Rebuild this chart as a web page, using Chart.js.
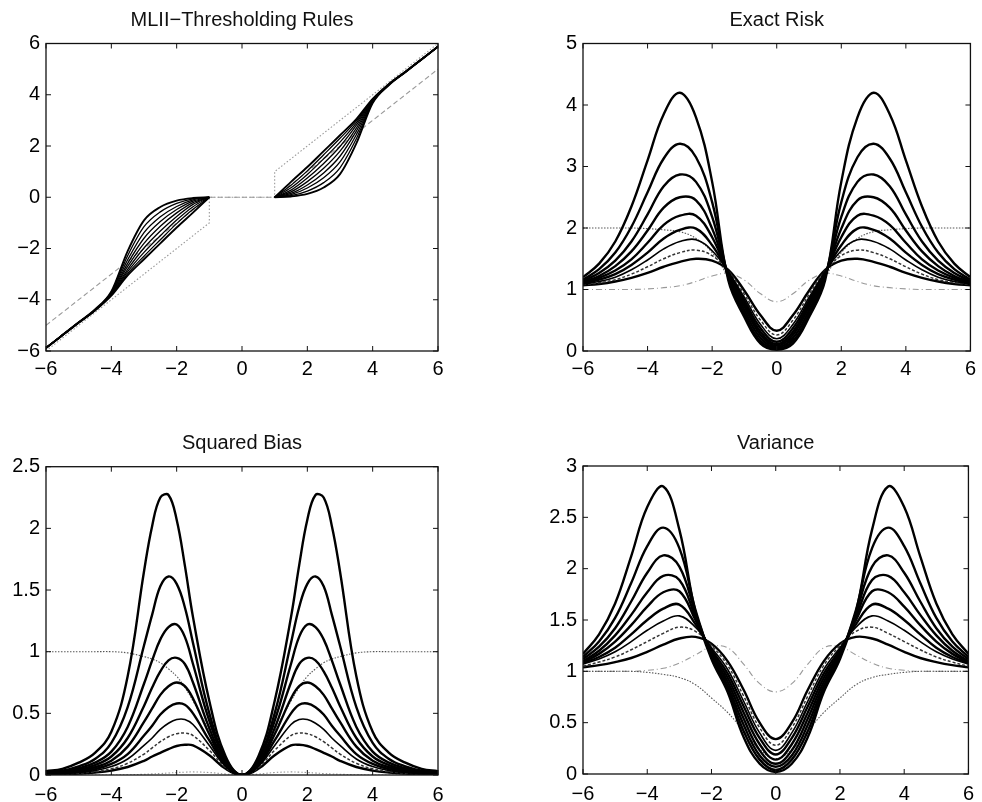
<!DOCTYPE html>
<html>
<head>
<meta charset="utf-8">
<script src="https://cdn.jsdelivr.net/npm/chart.js@4.4.1/dist/chart.umd.min.js"></script>
<style>
  body { margin: 0; background: #fff; }
  #wrap { position: relative; width: 982px; height: 802px; overflow: hidden; }
  canvas { position: absolute; }
</style>
</head>
<body>
<div id="wrap">
  <canvas id="c1" width="491" height="401" style="left:0;top:0"></canvas>
  <canvas id="c2" width="491" height="401" style="left:491px;top:0"></canvas>
  <canvas id="c3" width="491" height="401" style="left:0;top:401px"></canvas>
  <canvas id="c4" width="491" height="401" style="left:491px;top:401px"></canvas>
</div>
<script>
// grille commune des abscisses (pas de 0.5)
const xs = [-6,-5.5,-5,-4.5,-4,-3.5,-3,-2.5,-2,-1.5,-1,-0.5,0,0.5,1,1.5,2,2.5,3,3.5,4,4.5,5,5.5,6];
// grille plus fine autour des pics pour le biais
const xsBias = [-6,-5.5,-5,-4.5,-4,-3.5,-3,-2.75,-2.5,-2.25,-2,-1.75,-1.5,-1,-0.5,0,0.5,1,1.5,1.75,2,2.25,2.5,2.75,3,3.5,4,4.5,5,5.5,6];

// --- MLII-Thresholding Rules (9 regles, de la plus forte a la plus faible contraction)
const rule1 = [-5.88,-5.38,-4.88,-4.38,-3.68,-2.1,-0.9,-0.38,-0.13,-0.03,0,null,null,null,0,0.03,0.13,0.38,0.9,2.1,3.68,4.38,4.88,5.38,5.88];
const rule2 = [-5.88,-5.38,-4.88,-4.39,-3.7,-2.28,-1.15,-0.57,-0.24,-0.06,0,null,null,null,0,0.06,0.24,0.57,1.15,2.28,3.7,4.39,4.88,5.38,5.88];
const rule3 = [-5.88,-5.38,-4.88,-4.4,-3.72,-2.44,-1.38,-0.76,-0.36,-0.1,0,null,null,null,0,0.1,0.36,0.76,1.38,2.44,3.72,4.4,4.88,5.38,5.88];
const rule4 = [-5.88,-5.38,-4.89,-4.4,-3.74,-2.58,-1.6,-0.95,-0.48,-0.15,0,null,null,null,0,0.15,0.48,0.95,1.6,2.58,3.74,4.4,4.89,5.38,5.88];
const rule5 = [-5.88,-5.39,-4.89,-4.41,-3.76,-2.7,-1.8,-1.13,-0.61,-0.21,0,null,null,null,0,0.21,0.61,1.13,1.8,2.7,3.76,4.41,4.89,5.39,5.88];
const rule6 = [-5.88,-5.39,-4.89,-4.41,-3.78,-2.81,-1.98,-1.32,-0.75,-0.28,0,null,null,null,0,0.28,0.75,1.32,1.98,2.81,3.78,4.41,4.89,5.39,5.88];
const rule7 = [-5.88,-5.39,-4.9,-4.42,-3.8,-2.9,-2.15,-1.5,-0.89,-0.37,0,null,null,null,0,0.37,0.89,1.5,2.15,2.9,3.8,4.42,4.9,5.39,5.88];
const rule8 = [-5.88,-5.39,-4.9,-4.42,-3.82,-2.98,-2.3,-1.66,-1.03,-0.47,0,null,null,null,0,0.47,1.03,1.66,2.3,2.98,3.82,4.42,4.9,5.39,5.88];
const rule9 = [-5.88,-5.39,-4.9,-4.42,-3.84,-3.05,-2.42,-1.8,-1.18,-0.6,0,null,null,null,0,0.6,1.18,1.8,2.42,3.05,3.84,4.42,4.9,5.39,5.88];
// seuillage dur / doux (lambda = 1)
const hardX = [-6,-1,-1,1,1,6];
const hardY = [-6,-1,0,0,1,6];
const softX = [-6,-1,1,6];
const softY = [-5,0,0,5];

// --- Exact Risk
const risk1 = [1.2,1.42,1.78,2.35,3.1,3.85,4.2,3.8,2.75,1.15,0.55,0.12,0.02,0.12,0.55,1.15,2.75,3.8,4.2,3.85,3.1,2.35,1.78,1.42,1.2];
const risk2 = [1.16,1.33,1.6,2.02,2.58,3.13,3.37,3.15,2.42,1.2,0.6,0.16,0.04,0.16,0.6,1.2,2.42,3.15,3.37,3.13,2.58,2.02,1.6,1.33,1.16];
const risk3 = [1.14,1.27,1.47,1.78,2.22,2.68,2.87,2.75,2.18,1.22,0.66,0.21,0.06,0.21,0.66,1.22,2.18,2.75,2.87,2.68,2.22,1.78,1.47,1.27,1.14];
const risk4 = [1.12,1.22,1.38,1.62,1.96,2.33,2.5,2.45,1.99,1.24,0.72,0.26,0.08,0.26,0.72,1.24,1.99,2.45,2.5,2.33,1.96,1.62,1.38,1.22,1.12];
const risk5 = [1.11,1.19,1.31,1.49,1.76,2.05,2.2,2.2,1.85,1.26,0.77,0.31,0.11,0.31,0.77,1.26,1.85,2.2,2.2,2.05,1.76,1.49,1.31,1.19,1.11];
const risk6 = [1.1,1.16,1.25,1.4,1.6,1.83,1.97,1.99,1.72,1.28,0.82,0.37,0.15,0.37,0.82,1.28,1.72,1.99,1.97,1.83,1.6,1.4,1.25,1.16,1.1];
const risk7 = [1.09,1.13,1.2,1.32,1.48,1.66,1.78,1.81,1.63,1.29,0.87,0.43,0.2,0.43,0.87,1.29,1.63,1.81,1.78,1.66,1.48,1.32,1.2,1.13,1.09];
const risk8 = [1.08,1.11,1.16,1.25,1.37,1.5,1.6,1.64,1.55,1.3,0.92,0.5,0.26,0.5,0.92,1.3,1.55,1.64,1.6,1.5,1.37,1.25,1.16,1.11,1.08];
const risk9 = [1.07,1.09,1.13,1.19,1.27,1.37,1.45,1.5,1.47,1.32,0.98,0.58,0.33,0.58,0.98,1.32,1.47,1.5,1.45,1.37,1.27,1.19,1.13,1.09,1.07];
const riskSoft = [2,2,2,2,1.99,1.97,1.94,1.83,1.6,1.2,0.73,0.31,0.15,0.31,0.73,1.2,1.6,1.83,1.94,1.97,1.99,2,2,2,2];
const riskGray = [1,1,1,1,1.01,1.03,1.06,1.13,1.22,1.26,1.15,0.93,0.8,0.93,1.15,1.26,1.22,1.13,1.06,1.03,1.01,1,1,1,1];

// --- Squared Bias (sur xsBias)
const bias1 = [0.03,0.05,0.1,0.18,0.35,0.8,1.65,2.02,2.25,2.27,2.07,1.7,1.28,0.6,0.15,0,0.15,0.6,1.28,1.7,2.07,2.27,2.25,2.02,1.65,0.8,0.35,0.18,0.1,0.05,0.03];
const bias2 = [0.02,0.035,0.07,0.13,0.26,0.55,1.05,1.3,1.53,1.61,1.55,1.36,1.07,0.5,0.13,0,0.13,0.5,1.07,1.36,1.55,1.61,1.53,1.3,1.05,0.55,0.26,0.13,0.07,0.035,0.02];
const bias3 = [0.015,0.028,0.055,0.1,0.19,0.39,0.74,0.93,1.1,1.2,1.22,1.12,0.9,0.44,0.12,0,0.12,0.44,0.9,1.12,1.22,1.2,1.1,0.93,0.74,0.39,0.19,0.1,0.055,0.028,0.015];
const bias4 = [0.012,0.022,0.043,0.08,0.15,0.3,0.56,0.71,0.84,0.93,0.95,0.9,0.75,0.38,0.1,0,0.1,0.38,0.75,0.9,0.95,0.93,0.84,0.71,0.56,0.3,0.15,0.08,0.043,0.022,0.012];
const bias5 = [0.01,0.018,0.034,0.063,0.115,0.23,0.43,0.54,0.65,0.72,0.75,0.72,0.62,0.33,0.09,0,0.09,0.33,0.62,0.72,0.75,0.72,0.65,0.54,0.43,0.23,0.115,0.063,0.034,0.018,0.01];
const bias6 = [0.008,0.014,0.026,0.048,0.09,0.17,0.32,0.4,0.49,0.55,0.58,0.57,0.5,0.28,0.08,0,0.08,0.28,0.5,0.57,0.58,0.55,0.49,0.4,0.32,0.17,0.09,0.048,0.026,0.014,0.008];
const bias7 = [0.006,0.011,0.02,0.036,0.068,0.13,0.24,0.3,0.37,0.42,0.45,0.45,0.41,0.24,0.07,0,0.07,0.24,0.41,0.45,0.45,0.42,0.37,0.3,0.24,0.13,0.068,0.036,0.02,0.011,0.006];
const bias8 = [0.005,0.008,0.015,0.027,0.05,0.095,0.17,0.22,0.27,0.31,0.335,0.34,0.32,0.2,0.06,0,0.06,0.2,0.32,0.34,0.335,0.31,0.27,0.22,0.17,0.095,0.05,0.027,0.015,0.008,0.005];
const bias9 = [0.004,0.006,0.011,0.02,0.036,0.065,0.115,0.15,0.18,0.21,0.235,0.245,0.24,0.16,0.05,0,0.05,0.16,0.24,0.245,0.235,0.21,0.18,0.15,0.115,0.065,0.036,0.02,0.011,0.006,0.004];
const biasSoft = [1,1,1,1,1,0.99,0.96,0.94,0.91,0.86,0.8,0.71,0.6,0.36,0.11,0,0.11,0.36,0.6,0.71,0.8,0.86,0.91,0.94,0.96,0.99,1,1,1,1,1];
const biasGray = [0,0,0,0,0,0.002,0.006,0.009,0.012,0.016,0.02,0.023,0.025,0.02,0.008,0,0.008,0.02,0.025,0.023,0.02,0.016,0.012,0.009,0.006,0.002,0,0,0,0,0];

// --- Variance
const var1 = [1.17,1.36,1.66,2.12,2.6,2.8,2.38,1.58,1.12,0.8,0.36,0.1,0.02,0.1,0.36,0.8,1.12,1.58,2.38,2.8,2.6,2.12,1.66,1.36,1.17];
const var2 = [1.14,1.29,1.52,1.86,2.22,2.4,2.2,1.6,1.14,0.83,0.42,0.14,0.04,0.14,0.42,0.83,1.14,1.6,2.2,2.4,2.22,1.86,1.52,1.29,1.14];
const var3 = [1.12,1.24,1.42,1.68,1.96,2.13,2.02,1.57,1.15,0.86,0.48,0.18,0.07,0.18,0.48,0.86,1.15,1.57,2.02,2.13,1.96,1.68,1.42,1.24,1.12];
const var4 = [1.1,1.2,1.35,1.55,1.77,1.93,1.89,1.53,1.17,0.9,0.54,0.23,0.1,0.23,0.54,0.9,1.17,1.53,1.89,1.93,1.77,1.55,1.35,1.2,1.1];
const var5 = [1.09,1.17,1.29,1.45,1.63,1.77,1.78,1.5,1.19,0.94,0.6,0.29,0.14,0.29,0.6,0.94,1.19,1.5,1.78,1.77,1.63,1.45,1.29,1.17,1.09];
const var6 = [1.08,1.14,1.23,1.36,1.5,1.61,1.65,1.46,1.21,0.98,0.66,0.35,0.19,0.35,0.66,0.98,1.21,1.46,1.65,1.61,1.5,1.36,1.23,1.14,1.08];
const var7 = [1.07,1.12,1.19,1.29,1.4,1.49,1.54,1.43,1.23,1.02,0.71,0.4,0.23,0.4,0.71,1.02,1.23,1.43,1.54,1.49,1.4,1.29,1.19,1.12,1.07];
const var8 = [1.05,1.09,1.14,1.21,1.29,1.37,1.43,1.39,1.25,1.06,0.76,0.45,0.28,0.45,0.76,1.06,1.25,1.39,1.43,1.37,1.29,1.21,1.14,1.09,1.05];
const var9 = [1.04,1.06,1.09,1.13,1.19,1.26,1.32,1.335,1.27,1.1,0.82,0.5,0.34,0.5,0.82,1.1,1.27,1.335,1.32,1.26,1.19,1.13,1.09,1.06,1.04];
const varSoft = [1,1,1,1,0.99,0.97,0.94,0.87,0.74,0.6,0.42,0.24,0.15,0.24,0.42,0.6,0.74,0.87,0.94,0.97,0.99,1,1,1,1];
const varGray = [1,1,1,1,1.01,1.03,1.08,1.16,1.24,1.23,1.07,0.88,0.8,0.88,1.07,1.23,1.24,1.16,1.08,1.03,1.01,1,1,1,1];

const fontFam = '"Liberation Sans", Arial, Helvetica, sans-serif';

function pts(ys, xv) {
	const xx = xv || xs;
	return xx.map((x, i) => ({ x: x, y: ys[i] }));
}

// style des 9 courbes : la 7e plus fine, la 8e pointillee
function famille(series, mode, xv) {
	return series.map((s, i) => ({
		data: pts(s, xv),
		borderColor: i == 7 ? '#333' : '#000',
		borderWidth: i == 7 ? 1.5 : (i == 6 ? 1.6 : 2.4),
		borderDash: i == 7 ? [3, 2] : [],
		cubicInterpolationMode: mode,
		tension: 0.4,
	}));
}

function grise(s, dash, color, xv) {
	return {
		data: pts(s, xv),
		borderColor: color,
		borderWidth: 1.1,
		borderDash: dash,
		tension: 0.4,
	};
}

const fmt = v => (v < 0 ? '\u2212' + Math.abs(v) : String(v));

// cadre complet + graduations vers l'interieur
const cadre = {
	id: 'cadre',
	afterDraw(chart) {
		const ctx = chart.ctx, a = chart.chartArea, sx = chart.scales.x, sy = chart.scales.y;
		ctx.save();
		ctx.strokeStyle = '#111';
		ctx.lineWidth = 1.3;
		ctx.strokeRect(a.left, a.top, a.right - a.left, a.bottom - a.top);
		ctx.lineWidth = 1;
		ctx.beginPath();
		sx.ticks.forEach(t => {
			const p = sx.getPixelForValue(t.value);
			ctx.moveTo(p, a.bottom); ctx.lineTo(p, a.bottom - 5);
			ctx.moveTo(p, a.top); ctx.lineTo(p, a.top + 5);
		});
		sy.ticks.forEach(t => {
			const p = sy.getPixelForValue(t.value);
			ctx.moveTo(a.left, p); ctx.lineTo(a.left + 5, p);
			ctx.moveTo(a.right, p); ctx.lineTo(a.right - 5, p);
		});
		ctx.stroke();
		ctx.restore();
	}
};

function panneau(id, titre, datasets, ymin, ymax, ystep, geo) {
	new Chart(document.getElementById(id), {
		type: 'line',
		data: { datasets: datasets },
		plugins: [cadre],
		options: {
			responsive: false,
			animation: false,
			events: [],
			elements: { point: { radius: 0 } },
			layout: { padding: { left: 0, right: geo.right, top: 0, bottom: 0 } },
			plugins: {
				legend: { display: false },
				tooltip: { enabled: false },
				title: {
					display: true,
					text: titre,
					fullSize: false,
					color: '#111',
					font: { family: fontFam, size: 20, weight: 'normal' },
					padding: { top: geo.tTop, bottom: geo.tBot }
				}
			},
			scales: {
				x: {
					type: 'linear', min: -6, max: 6,
					grid: { display: false, drawTicks: false },
					border: { display: false },
					ticks: { stepSize: 2, autoSkip: false, maxRotation: 0, padding: geo.xPad,
						color: '#000', font: { family: fontFam, size: 20 }, callback: fmt },
					afterFit: s => { s.height = geo.xH; }
				},
				y: {
					type: 'linear', min: ymin, max: ymax,
					grid: { display: false, drawTicks: false },
					border: { display: false },
					ticks: { stepSize: ystep, autoSkip: false, padding: 6,
						color: '#000', font: { family: fontFam, size: 20 }, callback: fmt },
					afterFit: s => { s.width = geo.yW; }
				}
			}
		}
	});
}

// panneau 1 : regles
const regles = famille([rule1, rule2, rule3, rule4, rule5, rule6, rule7, rule8, rule9], 'monotone');
regles.forEach((d, i) => { d.borderWidth = (i == 0 || i == 8) ? 1.9 : 1.3; d.borderDash = []; d.borderColor = '#000'; });
regles.push({ data: pts(hardY, hardX), borderColor: '#999', borderWidth: 1.1, borderDash: [1.5, 2], tension: 0 });
regles.push({ data: pts(softY, softX), borderColor: '#999', borderWidth: 1.1, borderDash: [5, 3], tension: 0 });
panneau('c1', 'MLII\u2212Thresholding Rules', regles, -6, 6, 2,
	{ right: 53, tTop: 8.5, tBot: 11, xH: 50, xPad: 6, yW: 46 });

// panneau 2 : risque exact
const risques = famille([risk1, risk2, risk3, risk4, risk5, risk6, risk7, risk8, risk9], 'default');
risques.push(grise(riskSoft, [1.5, 1.5], '#555'));
risques.push(grise(riskGray, [6, 3, 1, 3], '#999'));
panneau('c2', 'Exact Risk', risques, 0, 5, 1,
	{ right: 8, tTop: 8.5, tBot: 11, xH: 50, xPad: 6, yW: 92 });

// panneau 3 : biais au carre
const biais = famille([bias1, bias2, bias3, bias4, bias5, bias6, bias7, bias8, bias9], 'default', xsBias);
biais.push(grise(biasSoft, [1.5, 1.5], '#555', xsBias));
biais.push(grise(biasGray, [1.5, 2], '#999', xsBias));
panneau('c3', 'Squared Bias', biais, 0, 2.5, 0.5,
	{ right: 53, tTop: 30.5, tBot: 11.2, xH: 27, xPad: 8, yW: 46 });

// panneau 4 : variance
const variances = famille([var1, var2, var3, var4, var5, var6, var7, var8, var9], 'default');
variances.push(grise(varSoft, [1.5, 1.5], '#555'));
variances.push(grise(varGray, [6, 3, 1, 3], '#999'));
panneau('c4', 'Variance', variances, 0, 3, 0.5,
	{ right: 8, tTop: 30.5, tBot: 10.5, xH: 28, xPad: 8, yW: 92 });
</script>
</body>
</html>
